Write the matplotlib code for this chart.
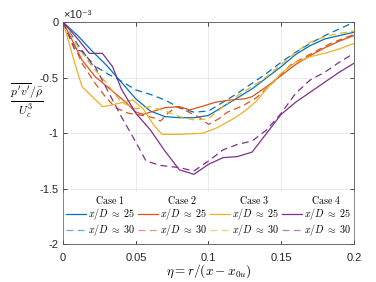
import matplotlib
matplotlib.use('Agg')
import matplotlib.pyplot as plt
from matplotlib.lines import Line2D

plt.rcParams['font.family'] = ['Liberation Sans', 'DejaVu Sans']
plt.rcParams['mathtext.fontset'] = 'cm'

# pressure-velocity term, in units of 1e-3
x1a = [0, 0.01, 0.02, 0.03, 0.04, 0.05, 0.06, 0.07, 0.08, 0.09, 0.1, 0.11, 0.12, 0.13, 0.14, 0.15, 0.16, 0.17, 0.18, 0.19, 0.2]
y1a = [0, -0.12, -0.26, -0.39, -0.54, -0.69, -0.80, -0.85, -0.86, -0.86, -0.84, -0.76, -0.68, -0.60, -0.50, -0.40, -0.29, -0.21, -0.15, -0.12, -0.09]
x1b = [0, 0.01, 0.02, 0.03, 0.04, 0.05, 0.06, 0.07, 0.08, 0.09, 0.1, 0.11, 0.12, 0.13, 0.14, 0.15, 0.16, 0.17, 0.18, 0.19, 0.2]
y1b = [0, -0.20, -0.38, -0.46, -0.53, -0.61, -0.65, -0.70, -0.77, -0.81, -0.80, -0.72, -0.64, -0.55, -0.46, -0.36, -0.27, -0.19, -0.12, -0.06, 0.0]

x2a = [0, 0.013, 0.022, 0.033, 0.043, 0.05, 0.055, 0.06, 0.07, 0.08, 0.087, 0.095, 0.105, 0.115, 0.125, 0.13, 0.14, 0.15, 0.16, 0.17, 0.18, 0.19, 0.2]
y2a = [0, -0.34, -0.49, -0.61, -0.72, -0.81, -0.83, -0.81, -0.77, -0.76, -0.79, -0.76, -0.72, -0.70, -0.69, -0.67, -0.58, -0.48, -0.38, -0.30, -0.23, -0.17, -0.12]
x2b = [0, 0.006, 0.013, 0.022, 0.029, 0.036, 0.045, 0.055, 0.062, 0.067, 0.072, 0.078, 0.085, 0.094, 0.1, 0.107, 0.113, 0.124, 0.133, 0.143, 0.157, 0.171, 0.184, 0.2]
y2b = [0, -0.16, -0.37, -0.55, -0.67, -0.77, -0.82, -0.84, -0.86, -0.89, -0.82, -0.76, -0.80, -0.86, -0.92, -0.87, -0.81, -0.75, -0.68, -0.56, -0.38, -0.28, -0.19, -0.11]

x3a = [0, 0.008, 0.013, 0.02, 0.027, 0.034, 0.043, 0.048, 0.055, 0.062, 0.068, 0.08, 0.096, 0.106, 0.117, 0.125, 0.133, 0.14, 0.15, 0.16, 0.17, 0.18, 0.19, 0.2]
y3a = [0, -0.37, -0.58, -0.67, -0.76, -0.745, -0.715, -0.70, -0.78, -0.92, -1.01, -1.01, -1.0, -0.95, -0.87, -0.80, -0.71, -0.60, -0.46, -0.36, -0.31, -0.28, -0.24, -0.19]
x3b = [0, 0.01, 0.02, 0.03, 0.04, 0.05, 0.06, 0.07, 0.08, 0.09, 0.1, 0.11, 0.12, 0.13, 0.14, 0.15, 0.16, 0.17, 0.18, 0.19, 0.2]
y3b = [0, -0.22, -0.40, -0.55, -0.72, -0.78, -0.76, -0.80, -0.85, -0.88, -0.87, -0.76, -0.66, -0.58, -0.49, -0.38, -0.27, -0.18, -0.13, -0.10, -0.08]

x4a = [0, 0.01, 0.018, 0.027, 0.034, 0.04, 0.05, 0.06, 0.07, 0.08, 0.09, 0.1, 0.11, 0.12, 0.13, 0.14, 0.15, 0.16, 0.17, 0.18, 0.19, 0.2]
y4a = [0, -0.15, -0.28, -0.28, -0.40, -0.60, -0.82, -0.97, -1.16, -1.33, -1.37, -1.28, -1.22, -1.21, -1.17, -1.0, -0.83, -0.72, -0.63, -0.54, -0.45, -0.37]
x4b = [0, 0.008, 0.013, 0.022, 0.03, 0.04, 0.05, 0.057, 0.067, 0.08, 0.09, 0.1, 0.11, 0.12, 0.13, 0.14, 0.15, 0.16, 0.17, 0.18, 0.19, 0.2]
y4b = [0, -0.25, -0.26, -0.40, -0.60, -0.85, -1.08, -1.25, -1.29, -1.31, -1.34, -1.25, -1.15, -1.10, -1.07, -0.97, -0.82, -0.64, -0.52, -0.45, -0.36, -0.28]

cases = ['Case 1', 'Case 2', 'Case 3', 'Case 4']
labels = [r'$x/D\;\approx\;25$', r'$x/D\;\approx\;30$']
colors = ['#0072BD', '#D95319', '#EDB120', '#7E2F8E']
series = [(x1a, y1a, x1b, y1b), (x2a, y2a, x2b, y2b), (x3a, y3a, x3b, y3b), (x4a, y4a, x4b, y4b)]

fig = plt.figure(figsize=(3.76, 2.82), dpi=100)
ax = fig.add_axes([0.168, 0.134, 0.773, 0.787])

handles = []
names = []
for c, (xa, ya, xb, yb), case in zip(colors, series, cases):
    ax.plot(xa, ya, color=c, lw=0.9)
    ax.plot(xb, yb, color=c, lw=0.9, dashes=(5.5, 3.5))
    handles += [Line2D([], [], linestyle='none'),
                Line2D([], [], color=c, lw=0.9),
                Line2D([], [], color=c, lw=0.9, alpha=0.6, dashes=(5.5, 3.5))]
    names += [r'$\;\;\;\mathrm{' + case.replace(' ', r'\ ') + '}$', labels[0], labels[1]]

ax.set_xlim(0, 0.2)
ax.set_ylim(-2, 0)
ax.set_xticks([0, 0.05, 0.1, 0.15, 0.2])
ax.set_xticklabels(['0', '0.05', '0.1', '0.15', '0.2'])
ax.set_yticks([-2, -1.5, -1, -0.5, 0])
ax.set_yticklabels(['-2', '-1.5', '-1', '-0.5', '0'])
ax.grid(True, color='#e6e6e6', lw=0.6)
ax.set_axisbelow(True)
ax.tick_params(direction='in', top=True, right=True, length=3, width=0.6,
               labelsize=8, colors='#262626')
ax.tick_params(axis='x', pad=6)
for s in ax.spines.values():
    s.set_color('#555555')
    s.set_linewidth(0.6)

ax.text(0.0, 1.01, '×10⁻³', transform=ax.transAxes, fontsize=8, color='#262626',
        ha='left', va='bottom')

ax.set_xlabel(r'$\eta = r/(x - x_{0u})$', fontsize=9.5, labelpad=0)
ax.set_ylabel(r'$\frac{\overline{p^\prime v^\prime}/\bar{\rho}}{U_c^3}$', fontsize=12, rotation=0)
ax.yaxis.set_label_coords(-0.125, 0.56)

leg = ax.legend(handles, names, ncol=4, loc='lower center', bbox_to_anchor=(0.5, 0.0),
                fontsize=7.2, frameon=True, framealpha=1, edgecolor='white', fancybox=False,
                handlelength=2.0, handletextpad=0.2, columnspacing=0.35,
                labelspacing=0.0, borderpad=0.2, borderaxespad=0.4)

fig.savefig('out.png', dpi=100, facecolor='white')
